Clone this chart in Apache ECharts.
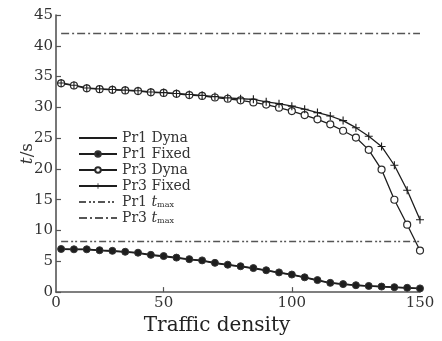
<!DOCTYPE html>
<html>
<head>
<meta charset="utf-8">
<script src="https://cdn.jsdelivr.net/npm/echarts@6/dist/echarts.min.js"></script>
<style>html,body{margin:0;padding:0;background:#fff;}#c{width:442px;height:341px;}</style>
</head>
<body>
<div id="c"></div>
<script>
const density = [10,15,20,25,30,35,40,45,50,55,60,65,70,75,80,85,90,95,100,105,110,115,120,125,130,135,140,145,150];
const pr1Dyna = [6.95,6.9,6.9,6.75,6.65,6.5,6.35,6.0,5.8,5.55,5.3,5.1,4.7,4.4,4.15,3.85,3.5,3.15,2.8,2.35,1.9,1.47,1.27,1.1,0.98,0.88,0.78,0.68,0.58];
const pr1Fixed = [7.0,6.95,6.95,6.8,6.7,6.55,6.4,6.05,5.85,5.6,5.35,5.15,4.75,4.45,4.2,3.9,3.55,3.2,2.85,2.4,1.95,1.5,1.3,1.12,1.0,0.9,0.8,0.7,0.6];
const pr3Dyna = [33.9,33.55,33.1,32.95,32.85,32.75,32.65,32.45,32.35,32.2,32.0,31.85,31.6,31.4,31.15,30.8,30.45,29.95,29.4,28.75,28.05,27.25,26.2,25.1,23.1,19.9,15.0,10.95,6.75];
const pr3Fixed = [33.95,33.6,33.15,33.0,32.9,32.8,32.7,32.5,32.4,32.25,32.1,31.95,31.75,31.55,31.4,31.3,30.9,30.6,30.2,29.7,29.15,28.6,27.85,26.7,25.3,23.65,20.6,16.55,11.75];
const pr1Tmax = 8.2;
const pr3Tmax = 42;
const xTickLabels = [8,50,100,150];
const names = ['Pr1 Dyna','Pr1 Fixed','Pr3 Dyna','Pr3 Fixed','Pr1 tmax','Pr3 tmax'];

const pair = (ys) => density.map((x,i)=>[x, ys[i]]);
const flat = (v) => [[density[0], v],[density[density.length-1], v]];
const FONT = 'DejaVu Serif';
const dark = '#1e1e1e';
const plusPath = 'path://M4.3,0 L5.7,0 L5.7,4.3 L10,4.3 L10,5.7 L5.7,5.7 L5.7,10 L4.3,10 L4.3,5.7 L0,5.7 L0,4.3 L4.3,4.3 Z';
const noSym = {0:true,4:true,5:true};

const chart = echarts.init(document.getElementById('c'), null, {renderer:'canvas'});
chart.setOption({
  animation:false,
  backgroundColor:'#fff',
  grid:{left:56,right:22,top:15,bottom:45,containLabel:false},
  legend:{
    orient:'vertical', left:73, top:126, itemWidth:38, itemHeight:7, itemGap:2,
    data:names.map((n,i)=> noSym[i] ? {name:n,itemStyle:{opacity:0}} : {name:n}),
    textStyle:{fontFamily:FONT,fontSize:14,color:'#333',lineHeight:13,
      rich:{it:{fontFamily:FONT,fontStyle:'italic',fontSize:14,color:'#333',lineHeight:13},
            sub:{fontFamily:FONT,fontSize:8,color:'#333',lineHeight:13,verticalAlign:'bottom'}}},
    formatter:function(n){
      if(n.indexOf('tmax')>=0){ return n.replace(' tmax','') + ' {it|t}{sub|max}'; }
      return n;
    }
  },
  xAxis:{
    type:'value', min:8, max:150,
    name:'Traffic density', nameLocation:'middle', nameGap:18,
    nameTextStyle:{fontFamily:FONT,fontSize:20,color:'#222',padding:[0,42,0,0]},
    axisLine:{show:true,lineStyle:{color:'#555',width:1.6}},
    axisTick:{show:true,inside:true,length:5,customValues:[50,100,150],lineStyle:{color:'#555',width:1.2}},
    axisLabel:{customValues:xTickLabels,fontFamily:FONT,fontSize:15,color:'#333',margin:4,
      formatter:function(v){return v===8?'0':String(v);}},
    splitLine:{show:false}
  },
  yAxis:{
    type:'value', min:0, max:45, interval:5,
    name:'{it|t}/s', nameLocation:'middle', nameGap:20, nameRotate:90, nameMoveOverlap:false,
    nameTextStyle:{fontFamily:FONT,fontSize:17,color:'#333',
      rich:{it:{fontFamily:FONT,fontStyle:'italic',fontSize:17,color:'#333'}}},
    axisLine:{show:true,lineStyle:{color:'#555',width:1.6}},
    axisTick:{show:true,inside:true,length:5,lineStyle:{color:'#555',width:1.2}},
    axisLabel:{fontFamily:FONT,fontSize:15,color:'#333',margin:3},
    splitLine:{show:false}
  },
  series:[
    {name:names[0],type:'line',data:pair(pr1Dyna),symbol:'none',
      lineStyle:{color:dark,width:1.5},itemStyle:{color:dark}},
    {name:names[1],type:'line',data:pair(pr1Fixed),symbol:'circle',symbolSize:7,
      lineStyle:{color:dark,width:1.5},itemStyle:{color:dark,borderColor:'#333',borderWidth:1}},
    {name:names[2],type:'line',data:pair(pr3Dyna),symbol:'circle',symbolSize:7,
      lineStyle:{color:dark,width:1.3},itemStyle:{color:'#fff',borderColor:'#2a2a2a',borderWidth:1.2}},
    {name:names[3],type:'line',data:pair(pr3Fixed),symbol:plusPath,symbolSize:8,
      lineStyle:{color:dark,width:1.3},itemStyle:{color:dark}},
    {name:names[4],type:'line',data:flat(pr1Tmax),symbol:'none',
      lineStyle:{color:'#555',width:1.5,type:[7,3,2,2,2,3]},itemStyle:{color:'#555'}},
    {name:names[5],type:'line',data:flat(pr3Tmax),symbol:'none',
      lineStyle:{color:'#555',width:1.5,type:[8,3,2,3]},itemStyle:{color:'#555'}}
  ]
});
</script>
</body>
</html>
